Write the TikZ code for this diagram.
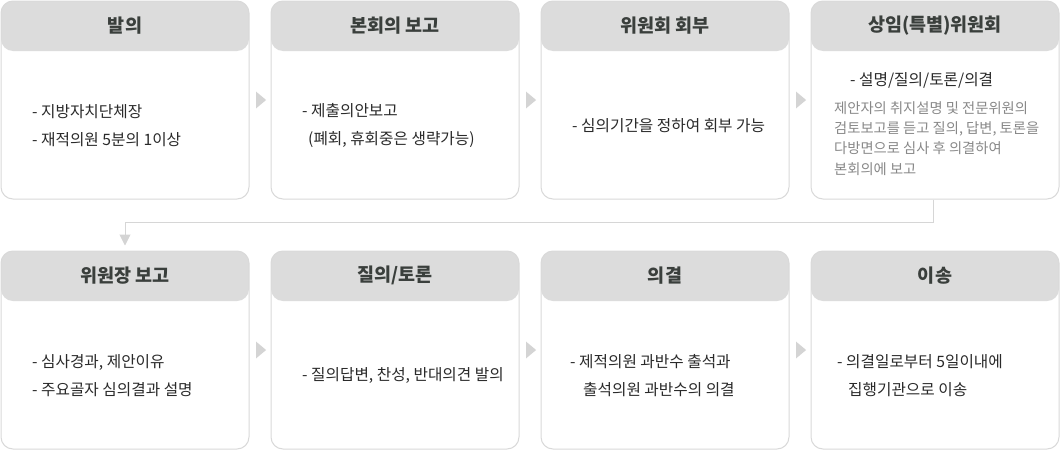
\documentclass[tikz,border=0pt]{standalone}
\usepackage{fontspec}
\newfontfamily\kr{Noto Sans CJK KR}
\usetikzlibrary{calc,shapes.geometric,arrows.meta}
\definecolor{hdr}{HTML}{DCDCDC}
\definecolor{bord}{HTML}{D9D9D9}
\definecolor{ttl}{HTML}{3A3F3C}
\definecolor{bodyc}{HTML}{2A2A2A}
\definecolor{greyt}{HTML}{888888}
\definecolor{tric}{HTML}{D4D4D4}
\definecolor{linec}{HTML}{D6D6D6}
\begin{document}
\begin{tikzpicture}[x=1pt,y=-1pt,
  card/.style={draw=bord, line width=1pt, fill=white, rounded corners=12pt,
    minimum width=248pt, minimum height=198pt, inner sep=0pt, anchor=north west,
    path picture={\fill[hdr] (path picture bounding box.north west) rectangle ([yshift=-50pt]path picture bounding box.north east);}},
  title/.style={font=\kr\bfseries\fontsize{18.5}{22}\selectfont, text=ttl, inner sep=0pt},
  bodytxt/.style={font=\kr\fontsize{15.7}{28}\selectfont, text=bodyc, align=left, anchor=west, inner sep=0pt},
  greytxt/.style={font=\kr\fontsize{14.3}{20.4}\selectfont, text=greyt, align=left, anchor=north west, inner sep=0pt},
  tri/.style={isosceles triangle, isosceles triangle apex angle=80, fill=tric, inner sep=0pt, minimum height=10pt, minimum width=12pt},
  conn/.style={draw=linec, line width=1pt}
]
\useasboundingbox (0,0) rectangle (1060,450);
% cards row 1
\node[card] (c1) at (0.5,0.5) {};
\node[card] (c2) at (270.5,0.5) {};
\node[card] (c3) at (540.5,0.5) {};
\node[card] (c4) at (810.5,0.5) {};
% cards row 2
\node[card] (c5) at (0.5,250.5) {};
\node[card] (c6) at (270.5,250.5) {};
\node[card] (c7) at (540.5,250.5) {};
\node[card] (c8) at (810.5,250.5) {};
% titles
\node[title] (t1) at ($(c1.north)+(0,25)$) {발의};
\node[title] (t2) at ($(c2.north)+(0,25)$) {본회의 보고};
\node[title] (t3) at ($(c3.north)+(0,25)$) {위원회 회부};
\node[title] (t4) at ($(c4.north)+(0,25)$) {상임(특별)위원회};
\node[title] (t5) at ($(c5.north)+(0,25)$) {위원장 보고};
\node[title] (t6) at ($(c6.north)+(0,25)$) {질의/토론};
\node[title] (t7) at ($(c7.north)+(0,25)$) {의결};
\node[title] (t8) at ($(c8.north)+(0,25)$) {이송};
% bodies
\node[bodytxt] (b1) at (32,126) {- 지방자치단체장\\- 재적의원 5분의 1이상};
\node[bodytxt] (b2) at (302,126) {- 제출의안보고\\\hspace*{6pt}(폐회, 휴회중은 생략가능)};
\node[bodytxt] (b3) at (572,126) {- 심의기간을 정하여 회부 가능};
\node[bodytxt] (b4) at (850,80) {- 설명/질의/토론/의결};
\node[greytxt] (g4) at (834,101) {제안자의 취지설명 및 전문위원의\\검토보고를 듣고 질의, 답변, 토론을\\다방면으로 심사 후 의결하여\\본회의에 보고};
\node[bodytxt] (b5) at (32,376) {- 심사경과, 제안이유\\- 주요골자 심의결과 설명};
\node[bodytxt] (b6) at (302,375) {- 질의답변, 찬성, 반대의견 발의};
\node[bodytxt] (b7) at (570,376) {- 제적의원 과반수 출석과\\\hspace*{13pt}출석의원 과반수의 의결};
\node[bodytxt] (b8) at (837,376) {- 의결일로부터 5일이내에\\\hspace*{11pt}집행기관으로 이송};
% arrows between cards
\node[tri] (a12) at ($(c1.east)!0.5!(c2.west)$) {};
\node[tri] (a23) at ($(c2.east)!0.5!(c3.west)$) {};
\node[tri] (a34) at ($(c3.east)!0.5!(c4.west)$) {};
\node[tri] (a56) at ($(c5.east)!0.5!(c6.west)$) {};
\node[tri] (a67) at ($(c6.east)!0.5!(c7.west)$) {};
\node[tri] (a78) at ($(c7.east)!0.5!(c8.west)$) {};
% elbow connector
\coordinate (e1) at ($(c4.south)+(-2,0)$);
\coordinate (e2) at ($(c5.north)+(0,-5)$);
\draw[conn, -{Triangle[width=11pt,length=11pt,fill=tric,color=tric]}] (e1) -- ++(0,22.5) -| (e2);
\end{tikzpicture}
\end{document}
